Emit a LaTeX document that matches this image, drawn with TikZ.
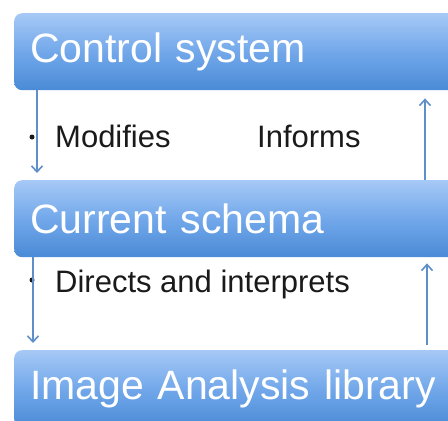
\documentclass[tikz,border=0pt]{standalone}
\usepackage{fontspec}
\setmainfont{Liberation Sans}
\usetikzlibrary{arrows.meta}
\definecolor{boxtop}{HTML}{A6C9F6}
\definecolor{boxmid}{HTML}{72A8EA}
\definecolor{boxbot}{HTML}{4A8AD6}
\definecolor{arrcol}{HTML}{5F8FC9}
\definecolor{txt}{HTML}{1A1A1A}
\tikzset{
  bluebox/.style={rectangle, rounded corners=8pt, anchor=north west,
    top color=boxtop, bottom color=boxbot, middle color=boxmid,
    minimum height=77pt, text width=430pt, inner xsep=16pt, inner ysep=0pt,
    align=left, text=white, font=\fontsize{41}{49}\selectfont},
  lbl/.style={anchor=base west, inner sep=0pt, text=txt, font=\fontsize{31}{37}\selectfont},
  bul/.style={circle, fill=txt, inner sep=0pt, minimum size=5pt},
  arr/.style={draw=arrcol, line width=1.8pt, -{Straight Barb[length=6pt,width=11pt,line width=1.6pt]}}
}
\begin{document}
\begin{tikzpicture}[x=1pt,y=-1pt]
\useasboundingbox (0,0) rectangle (448,421);
\clip (0,0) rectangle (448,421);
\fill[white] (0,0) rectangle (448,421);
\node[bluebox] (ctrl) at (14,13) {Control system};
\node[bluebox] (schema) at (14,180) {Current schema};
\node[bluebox] (lib) at (14,350) {Image Analysis library};
% labels
\node[bul] (b1) at (32,137) {};
\node[lbl] (mod) at (55,147) {Modifies};
\node[lbl] (inf) at (257,147) {Informs};
\node[bul] (b2) at (32,280) {};
\node[lbl] (dir) at (55,292) {Directs and interprets};
% arrows
\coordinate (l1) at (37,0);
\coordinate (r1) at (425,0);
\coordinate (l2) at (33,0);
\coordinate (r2) at (427,0);
\draw[arr, shorten >=7pt] (ctrl.south -| l1) -- (schema.north -| l1);
\draw[arr, shorten >=8pt] (schema.north -| r1) -- (ctrl.south -| r1);
\draw[arr, shorten >=7pt] (schema.south -| l2) -- (lib.north -| l2);
\draw[arr, shorten >=6pt, shorten <=5pt] (lib.north -| r2) -- (schema.south -| r2);
\end{tikzpicture}
\end{document}
